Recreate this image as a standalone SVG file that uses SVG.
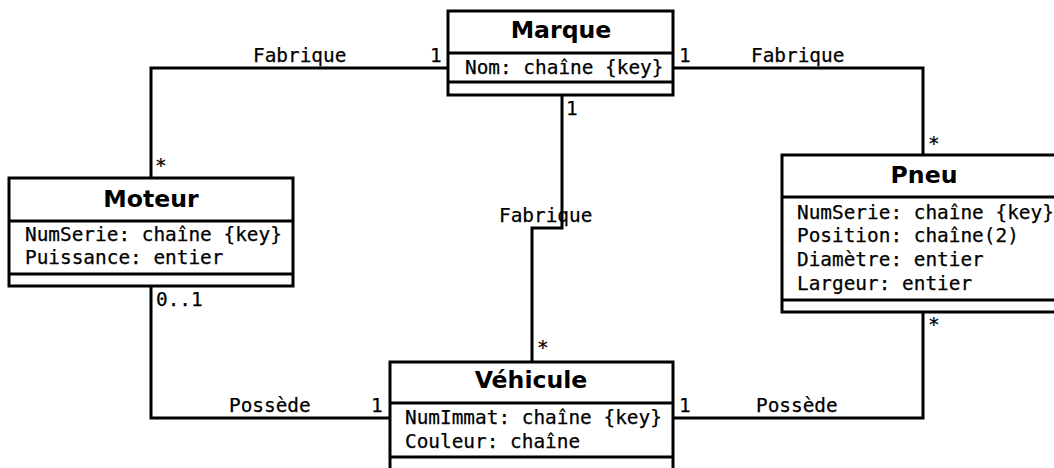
<svg xmlns="http://www.w3.org/2000/svg" width="1054" height="468" viewBox="0 0 1054 468">
<style>
.box{fill:#fff;stroke:#000;stroke-width:3}
.ln{fill:none;stroke:#000;stroke-width:3}
.t{font-family:"DejaVu Sans",sans-serif;font-weight:bold;font-size:23.6px;text-anchor:middle;fill:#000}
.a{font-family:"DejaVu Sans Mono",monospace;font-size:19.4px;fill:#000;stroke:#000;stroke-width:0.25}
</style>
<rect width="1054" height="468" fill="#fff"/>
<g id="connectors">
<polyline class="ln" points="448,68 151,68 151,178"/>
<polyline class="ln" points="673,68 923,68 923,155"/>
<polyline class="ln" points="562,95 562,228 532,228 532,362"/>
<polyline class="ln" points="151,286 151,418 390,418"/>
<polyline class="ln" points="923,312 923,418 673,418"/>
<text class="a" x="253" y="62">Fabrique</text>
<text class="a" x="430" y="62">1</text>
<text class="a" x="155" y="172">*</text>
<text class="a" x="679" y="62">1</text>
<text class="a" x="751" y="62">Fabrique</text>
<text class="a" x="928" y="150">*</text>
<text class="a" x="566" y="115">1</text>
<text class="a" x="499" y="222">Fabrique</text>
<text class="a" x="537" y="354">*</text>
<text class="a" x="156" y="306">0..1</text>
<text class="a" x="229" y="412">Possède</text>
<text class="a" x="371" y="412">1</text>
<text class="a" x="928" y="331">*</text>
<text class="a" x="679" y="412">1</text>
<text class="a" x="756" y="412">Possède</text>
</g>
<g id="Marque">
<rect class="box" x="448" y="11" width="225" height="84"/>
<line class="ln" x1="448" y1="53" x2="673" y2="53"/>
<line class="ln" x1="448" y1="82" x2="673" y2="82"/>
<text class="t" x="561" y="38">Marque</text>
<text class="a" x="465" y="74">Nom: chaîne {key}</text>
</g>
<g id="Moteur">
<rect class="box" x="9" y="178" width="284" height="108"/>
<line class="ln" x1="9" y1="221" x2="293" y2="221"/>
<line class="ln" x1="9" y1="274" x2="293" y2="274"/>
<text class="t" x="151" y="207">Moteur</text>
<text class="a" x="25" y="241">NumSerie: chaîne {key}</text>
<text class="a" x="25" y="264">Puissance: entier</text>
</g>
<g id="Pneu">
<rect class="box" x="782" y="155" width="284" height="157"/>
<line class="ln" x1="782" y1="197" x2="1066" y2="197"/>
<line class="ln" x1="782" y1="300" x2="1066" y2="300"/>
<text class="t" x="924" y="183">Pneu</text>
<text class="a" x="797" y="219">NumSerie: chaîne {key}</text>
<text class="a" x="797" y="242">Position: chaîne(2)</text>
<text class="a" x="797" y="266">Diamètre: entier</text>
<text class="a" x="797" y="290">Largeur: entier</text>
</g>
<g id="Vehicule">
<rect class="box" x="390" y="362" width="283" height="120"/>
<line class="ln" x1="390" y1="403" x2="673" y2="403"/>
<line class="ln" x1="390" y1="457" x2="673" y2="457"/>
<text class="t" x="531" y="388">Véhicule</text>
<text class="a" x="405" y="424">NumImmat: chaîne {key}</text>
<text class="a" x="405" y="448">Couleur: chaîne</text>
</g>
</svg>
